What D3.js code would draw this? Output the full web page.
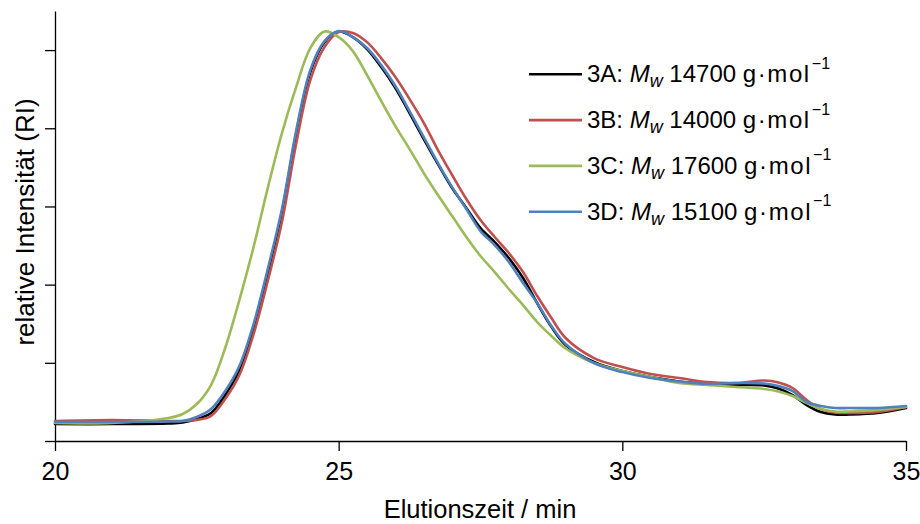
<!DOCTYPE html>
<html>
<head>
<meta charset="utf-8">
<script src="https://cdn.jsdelivr.net/npm/d3@7"></script>
<style>
  html, body { margin: 0; padding: 0; background: #fff; }
  svg { display: block; font-family: "Liberation Sans", Arial, sans-serif; }
</style>
</head>
<body>
<svg id="chart" width="920" height="524"></svg>
<script>
// ---- data ----
const times = [20, 21, 22, 22.25, 22.5, 22.75, 23, 23.25, 23.5, 23.75, 24, 24.25, 24.5, 24.75, 25, 25.25, 25.5, 25.75, 26, 26.25, 26.5, 26.75, 27, 27.25, 27.5, 27.75, 28, 28.25, 28.5, 28.75, 29, 29.5, 30, 30.5, 31, 31.5, 32, 32.5, 32.75, 33, 33.25, 33.5, 33.75, 34, 34.5, 35];

const series3A = [0.217, 0.217, 0.224, 0.236, 0.281, 0.358, 0.588, 0.908, 1.445, 2.148, 2.928, 3.926, 4.719, 5.102, 5.237, 5.166, 5.013, 4.783, 4.514, 4.194, 3.862, 3.542, 3.235, 2.980, 2.724, 2.545, 2.340, 2.084, 1.762, 1.460, 1.228, 1.010, 0.895, 0.818, 0.761, 0.729, 0.716, 0.710, 0.671, 0.588, 0.460, 0.371, 0.339, 0.339, 0.358, 0.422];
const series3B = [0.256, 0.269, 0.256, 0.256, 0.269, 0.320, 0.537, 0.844, 1.368, 2.046, 2.801, 3.798, 4.616, 5.038, 5.230, 5.220, 5.102, 4.898, 4.655, 4.373, 4.069, 3.721, 3.402, 3.095, 2.826, 2.609, 2.404, 2.161, 1.854, 1.573, 1.317, 1.061, 0.946, 0.857, 0.806, 0.754, 0.742, 0.774, 0.748, 0.678, 0.524, 0.409, 0.364, 0.358, 0.371, 0.435];
const series3C = [0.230, 0.230, 0.294, 0.345, 0.473, 0.716, 1.189, 1.803, 2.481, 3.235, 3.939, 4.527, 5.026, 5.237, 5.166, 4.987, 4.680, 4.348, 4.028, 3.734, 3.427, 3.146, 2.877, 2.609, 2.366, 2.161, 1.944, 1.739, 1.522, 1.343, 1.183, 0.997, 0.895, 0.818, 0.742, 0.716, 0.691, 0.665, 0.633, 0.575, 0.486, 0.409, 0.377, 0.377, 0.396, 0.435];
const series3D = [0.243, 0.243, 0.249, 0.256, 0.307, 0.409, 0.639, 0.959, 1.496, 2.199, 2.967, 3.964, 4.744, 5.115, 5.243, 5.166, 5.026, 4.808, 4.540, 4.220, 3.887, 3.555, 3.248, 2.967, 2.685, 2.506, 2.289, 2.020, 1.765, 1.471, 1.240, 0.997, 0.882, 0.806, 0.761, 0.729, 0.742, 0.735, 0.703, 0.639, 0.499, 0.448, 0.422, 0.422, 0.422, 0.448];

const seriesNames = ["3A", "3B", "3C", "3D"];
const seriesMw = ["14700", "14000", "17600", "15100"];
const seriesColors = ["#000000", "#c0504d", "#9bbb59", "#4f81bd"];
const seriesValues = [series3A, series3B, series3C, series3D];

const xTicks = [20, 25, 30, 35];
const yTicks = [0, 1, 2, 3, 4, 5];
const xTitle = "Elutionszeit / min";
const yTitle = "relative Intensität (RI)";

// ---- drawing ----
const svg = d3.select("#chart");
const x = d3.scaleLinear().domain([20, 35]).range([55, 906]);
const y = d3.scaleLinear().domain([0, 5.5]).range([441, 11]);

// axes
const xAxis = d3.axisBottom(x).tickValues(xTicks).tickSize(10).tickSizeOuter(0).tickPadding(6);
const gx = svg.append("g").attr("transform", "translate(0,441)").call(xAxis);
gx.select(".domain").attr("stroke", "#000").attr("stroke-width", 1.3);
gx.selectAll(".tick line").attr("stroke", "#000").attr("stroke-width", 1.3);
gx.selectAll(".tick text").attr("font-size", 25).attr("fill", "#000")
  .attr("font-family", "Liberation Sans, Arial, sans-serif").attr("dy", "0.71em").attr("y", 21.5);

const yAxis = d3.axisLeft(y).tickValues(yTicks).tickSize(10).tickSizeOuter(0).tickFormat("");
const gy = svg.append("g").attr("transform", "translate(55,0)").call(yAxis);
gy.select(".domain").attr("stroke", "#000").attr("stroke-width", 1.3);
gy.selectAll(".tick line").attr("stroke", "#000").attr("stroke-width", 1.3);

// axis titles
svg.append("text").attr("x", 480).attr("y", 518).attr("text-anchor", "middle")
  .attr("font-size", 25.5).attr("fill", "#000").text(xTitle);
svg.append("text").attr("transform", "translate(34,222) rotate(-90)").attr("text-anchor", "middle")
  .attr("font-size", 26).attr("fill", "#000").text(yTitle);

// curves
const line = d3.line().x(d => x(d[0])).y(d => y(d[1])).curve(d3.curveCatmullRom.alpha(0.5));
seriesValues.forEach((vals, i) => {
  const pts = times.map((t, j) => [t, vals[j]]);
  svg.append("path").datum(pts).attr("d", line)
    .attr("fill", "none").attr("stroke", seriesColors[i]).attr("stroke-width", 2.6)
    .attr("stroke-linejoin", "round").attr("stroke-linecap", "round");
});

// legend
const legendY0 = 74.3, legendStep = 45.8;
seriesNames.forEach((name, i) => {
  const cy = legendY0 + i * legendStep;
  svg.append("line").attr("x1", 529).attr("x2", 582).attr("y1", cy).attr("y2", cy)
    .attr("stroke", seriesColors[i]).attr("stroke-width", 2.6);
  const t = svg.append("text").attr("x", 587).attr("y", cy + 8).attr("font-size", 24).attr("fill", "#000");
  t.append("tspan").text(name + ": ");
  t.append("tspan").attr("font-style", "italic").text("M");
  t.append("tspan").attr("font-style", "italic").attr("font-size", 18).attr("dy", 5).text("w");
  t.append("tspan").attr("dy", -5).text(" " + seriesMw[i] + " ");
  t.append("tspan").attr("letter-spacing", 1.6).text("g·mol");
  t.append("tspan").attr("font-size", 16).attr("dy", -13.5).attr("dx", 1).text("−1");
});
</script>
</body>
</html>
